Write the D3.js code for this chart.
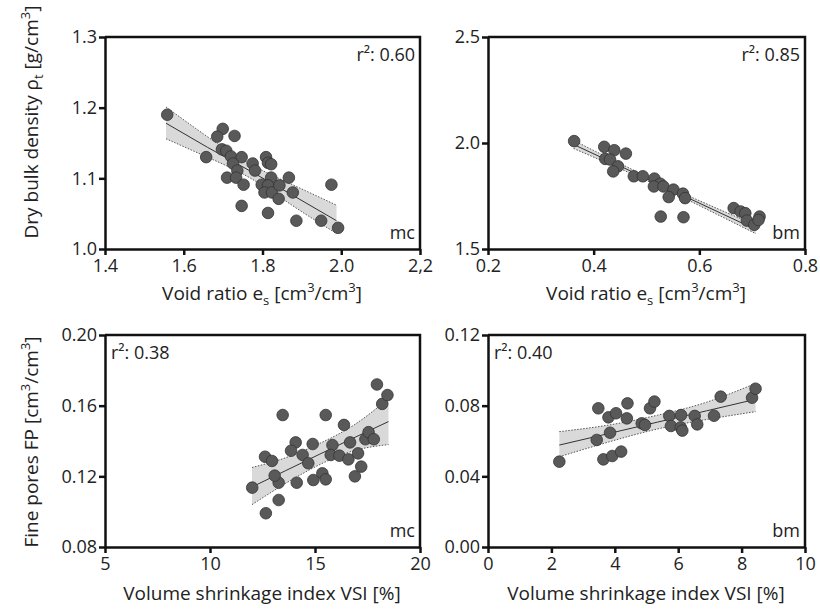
<!DOCTYPE html>
<meta charset="utf-8">
<script src="https://d3js.org/d3.v7.min.js"></script>
<style>
  body { margin: 0; background: #fff; }
  text { font-family: "Open Sans", "Noto Sans", sans-serif; fill: #222; }
</style>
<div id="chart"></div>
<script>

// panel a: void ratio vs dry bulk density (mc)
var mcVoid    = [1.558,1.699,1.685,1.729,1.657,1.697,1.708,1.720,1.747,1.725,1.736,1.775,1.781,1.710,1.733,1.752,1.809,1.814,1.822,1.822,1.798,1.814,1.805,1.824,1.843,1.867,1.841,1.877,1.747,1.814,1.886,1.949,1.975,1.992]
var mcDensity = [1.190,1.170,1.159,1.160,1.130,1.141,1.139,1.131,1.130,1.121,1.111,1.121,1.111,1.101,1.101,1.091,1.130,1.122,1.120,1.101,1.091,1.090,1.080,1.080,1.090,1.101,1.071,1.080,1.061,1.051,1.040,1.040,1.091,1.030]
var mcVoidFitX   = [1.555,1.66,1.77,1.88,1.988]
var mcDensityFit = [1.178,1.144,1.110,1.075,1.040]
var mcDensityLo  = [1.156,1.130,1.100,1.060,1.022]
var mcDensityHi  = [1.201,1.159,1.120,1.090,1.062]

// panel b: void ratio vs dry bulk density (bm)
var bmVoid    = [0.363,0.420,0.439,0.461,0.422,0.431,0.446,0.437,0.476,0.493,0.515,0.526,0.514,0.532,0.551,0.542,0.569,0.573,0.527,0.570,0.665,0.678,0.687,0.690,0.704,0.714,0.712]
var bmDensity = [2.009,1.982,1.966,1.950,1.925,1.922,1.890,1.866,1.843,1.843,1.832,1.808,1.795,1.795,1.780,1.745,1.761,1.740,1.653,1.650,1.693,1.677,1.669,1.634,1.614,1.653,1.637]
var bmVoidFitX   = [0.362,0.45,0.535,0.62,0.707]
var bmDensityFit = [1.993,1.891,1.792,1.693,1.592]
var bmDensityLo  = [1.974,1.879,1.783,1.680,1.572]
var bmDensityHi  = [2.012,1.903,1.801,1.706,1.612]

// panel c: VSI vs fine pores (mc)
var mcVSI = [12.01,12.66,13.27,13.27,13.08,12.62,12.95,13.46,14.08,13.86,14.13,14.41,14.68,14.89,14.92,15.35,15.51,15.51,15.83,15.75,16.16,16.38,16.59,16.67,16.9,17.05,17.2,17.4,17.55,17.8,17.95,18.2,18.45]
var mcFP  = [0.1136,0.0991,0.1066,0.1164,0.1204,0.1311,0.1287,0.1547,0.1392,0.1345,0.1164,0.1321,0.1274,0.1383,0.1179,0.1217,0.1183,0.1547,0.1377,0.1321,0.1317,0.1491,0.1296,0.1392,0.1200,0.1330,0.1255,0.1410,0.1450,0.1410,0.1720,0.1610,0.1660]
var mcVSIFitX = [12.0,13.6,15.2,16.85,18.5]
var mcFPFit   = [0.114,0.1232,0.1324,0.1418,0.151]
var mcFPLo    = [0.104,0.116,0.1265,0.1345,0.138]
var mcFPHi    = [0.125,0.1305,0.1385,0.149,0.164]

// panel d: VSI vs fine pores (bm)
var bmVSI = [2.25,3.43,3.48,3.80,4.04,3.85,3.64,3.92,4.20,4.40,4.38,4.85,4.95,5.11,5.25,5.72,5.77,6.09,6.08,6.13,6.52,6.60,7.13,7.34,8.33,8.44]
var bmFP  = [0.0483,0.0606,0.0785,0.0734,0.0757,0.0647,0.0496,0.0515,0.0540,0.0813,0.0728,0.0700,0.0691,0.0785,0.0823,0.0742,0.0685,0.0747,0.0677,0.0659,0.0742,0.0694,0.0743,0.0851,0.0845,0.0896]
var bmVSIFitX = [2.25,3.8,5.35,6.9,8.44]
var bmFPFit   = [0.0577,0.0642,0.0707,0.0771,0.0836]
var bmFPLo    = [0.0511,0.0594,0.0668,0.0722,0.0766]
var bmFPHi    = [0.0653,0.0690,0.0746,0.0820,0.0926]

// tick values and labels
var voidTicksMc  = [1.4,1.6,1.8,2.0,2.2]
var voidLabelsMc = ["1.4","1.6","1.8","2.0","2,2"]
var voidTicksBm  = [0.2,0.4,0.6,0.8]
var densTicksMc  = [1.0,1.1,1.2,1.3]
var densTicksBm  = [1.5,2.0,2.5]
var vsiTicksMc   = [5,10,15,20]
var vsiTicksBm   = [0,2,4,6,8,10]
var fpTicksMc    = [0.08,0.12,0.16,0.20]
var fpTicksBm    = [0.00,0.04,0.08,0.12]

var svg = d3.select("#chart")
  .append("svg")
    .attr("width", 820)
    .attr("height", 611)

function panel(o) {
  var x = d3.scaleLinear().domain(o.xDomain).range([o.left, o.left + o.w])
  var y = d3.scaleLinear().domain(o.yDomain).range([o.top + o.h, o.top])
  var g = svg.append("g")

  // confidence band
  var idx = d3.range(o.fx.length)
  g.append("path")
    .datum(idx)
    .attr("d", d3.area().x(i => x(o.fx[i])).y0(i => y(o.lo[i])).y1(i => y(o.hi[i])).curve(d3.curveNatural))
    .attr("fill", "#d9d9d9")
  ;[o.lo, o.hi].forEach(function(arr) {
    g.append("path")
      .datum(idx)
      .attr("d", d3.line().x(i => x(o.fx[i])).y(i => y(arr[i])).curve(d3.curveNatural))
      .attr("fill", "none")
      .attr("stroke", "#555")
      .attr("stroke-width", 1)
      .attr("stroke-dasharray", "1.5,1.5")
  })
  g.append("path")
    .datum(idx)
    .attr("d", d3.line().x(i => x(o.fx[i])).y(i => y(o.fit[i])))
    .attr("fill", "none")
    .attr("stroke", "#333")
    .attr("stroke-width", 1)

  // points
  g.selectAll("circle")
    .data(o.xs)
    .enter()
    .append("circle")
      .attr("cx", d => x(d))
      .attr("cy", (d, i) => y(o.ys[i]))
      .attr("r", 5.8)
      .attr("fill", "#595959")
      .attr("stroke", "#333")
      .attr("stroke-width", 0.8)

  // frame (top + right)
  g.append("path")
    .attr("d", "M" + o.left + "," + o.top + "H" + (o.left + o.w) + "V" + (o.top + o.h))
    .attr("fill", "none")
    .attr("stroke", "#111")
    .attr("stroke-width", 2.5)

  // axes
  var ax = g.append("g")
    .attr("transform", "translate(0," + (o.top + o.h) + ")")
    .call(d3.axisBottom(x).tickValues(o.xTicks).tickFormat((d, i) => o.xLabels[i]).tickSize(6).tickSizeOuter(0).tickPadding(4))
  var ay = g.append("g")
    .attr("transform", "translate(" + o.left + ",0)")
    .call(d3.axisLeft(y).tickValues(o.yTicks).tickFormat((d, i) => o.yLabels[i]).tickSize(6).tickSizeOuter(0).tickPadding(2))
  ;[ax, ay].forEach(function(a) {
    a.selectAll("path, line").attr("stroke", "#111").attr("stroke-width", 2.5)
    a.selectAll("text").attr("fill", "#222").style("font-size", "18px").style("font-family", "Open Sans")
  })

  // r2 and site label
  var r2 = g.append("text")
    .attr("y", o.top + 24)
    .style("font-size", "18px")
    .text("r²: " + o.r2)
  if (o.r2Left) r2.attr("x", o.left + 6)
  else r2.attr("x", o.left + o.w - 5).attr("text-anchor", "end")
  g.append("text")
    .attr("x", o.left + o.w - 5)
    .attr("y", o.top + o.h - 10)
    .attr("text-anchor", "end")
    .style("font-size", "18px")
    .text(o.tag)
}

var fmt1 = d3.format(".1f"), fmt2 = d3.format(".2f")

panel({left: 105, top: 37, w: 315, h: 212, xDomain: [1.4, 2.2], yDomain: [1.0, 1.3],
  xTicks: voidTicksMc, xLabels: voidLabelsMc, yTicks: densTicksMc, yLabels: densTicksMc.map(fmt1),
  xs: mcVoid, ys: mcDensity, fx: mcVoidFitX, fit: mcDensityFit, lo: mcDensityLo, hi: mcDensityHi,
  r2: "0.60", tag: "mc"})
panel({left: 488, top: 37, w: 317, h: 212, xDomain: [0.2, 0.8], yDomain: [1.5, 2.5],
  xTicks: voidTicksBm, xLabels: voidTicksBm.map(fmt1), yTicks: densTicksBm, yLabels: densTicksBm.map(fmt1),
  xs: bmVoid, ys: bmDensity, fx: bmVoidFitX, fit: bmDensityFit, lo: bmDensityLo, hi: bmDensityHi,
  r2: "0.85", tag: "bm"})
panel({left: 105, top: 335, w: 315, h: 212, xDomain: [5, 20], yDomain: [0.08, 0.20],
  xTicks: vsiTicksMc, xLabels: vsiTicksMc.map(String), yTicks: fpTicksMc, yLabels: fpTicksMc.map(fmt2),
  xs: mcVSI, ys: mcFP, fx: mcVSIFitX, fit: mcFPFit, lo: mcFPLo, hi: mcFPHi,
  r2: "0.38", tag: "mc", r2Left: true})
panel({left: 488, top: 335, w: 317, h: 212, xDomain: [0, 10], yDomain: [0, 0.12],
  xTicks: vsiTicksBm, xLabels: vsiTicksBm.map(String), yTicks: fpTicksBm, yLabels: fpTicksBm.map(fmt2),
  xs: bmVSI, ys: bmFP, fx: bmVSIFitX, fit: bmFPFit, lo: bmFPLo, hi: bmFPHi,
  r2: "0.40", tag: "bm", r2Left: true})

// axis titles
function voidTitle(cx, cy) {
  var t = svg.append("text").attr("x", cx).attr("y", cy).attr("text-anchor", "middle").style("font-size", "19px")
  t.append("tspan").text("Void ratio e")
  t.append("tspan").attr("dy", 5).style("font-size", "13px").text("s")
  t.append("tspan").attr("dy", -5).text(" [cm")
  t.append("tspan").attr("dy", -8).style("font-size", "13px").text("3")
  t.append("tspan").attr("dy", 8).text("/cm")
  t.append("tspan").attr("dy", -8).style("font-size", "13px").text("3")
  t.append("tspan").attr("dy", 8).text("]")
}
voidTitle(262, 300)
voidTitle(646, 300)

svg.append("text").attr("x", 262).attr("y", 600).attr("text-anchor", "middle").style("font-size", "19px")
  .text("Volume shrinkage index VSI [%]")
svg.append("text").attr("x", 646).attr("y", 600).attr("text-anchor", "middle").style("font-size", "19px")
  .text("Volume shrinkage index VSI [%]")

var yt1 = svg.append("text").attr("transform", "translate(38,122) rotate(-90)").attr("text-anchor", "middle").style("font-size", "19px")
yt1.append("tspan").text("Dry bulk density ρ")
yt1.append("tspan").attr("dy", 5).style("font-size", "13px").text("t")
yt1.append("tspan").attr("dy", -5).text(" [g/cm")
yt1.append("tspan").attr("dy", -8).style("font-size", "13px").text("3")
yt1.append("tspan").attr("dy", 8).text("]")

var yt2 = svg.append("text").attr("transform", "translate(38,442) rotate(-90)").attr("text-anchor", "middle").style("font-size", "19px")
yt2.append("tspan").text("Fine pores FP  [cm")
yt2.append("tspan").attr("dy", -8).style("font-size", "13px").text("3")
yt2.append("tspan").attr("dy", 8).text("/cm")
yt2.append("tspan").attr("dy", -8).style("font-size", "13px").text("3")
yt2.append("tspan").attr("dy", 8).text("]")

</script>
